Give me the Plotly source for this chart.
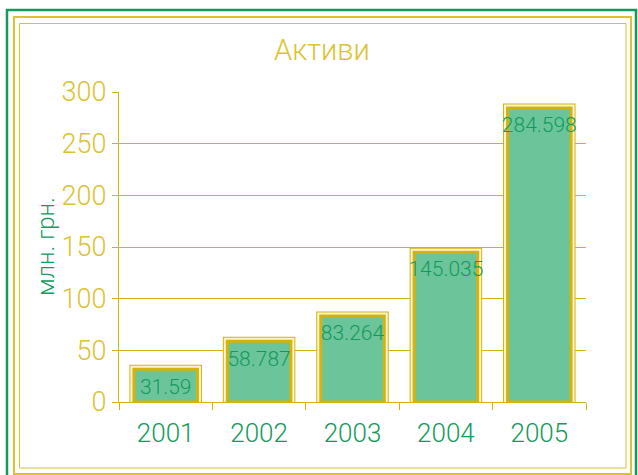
import plotly.graph_objects as go

# ----------------------
#  Дані
# ----------------------

roky = ["2001", "2002", "2003", "2004", "2005"]
aktyvy = [31.59, 58.787, 83.264, 145.035, 284.598]
pidpysy = ["31.59", "58.787", "83.264", "145.035", "284.598"]

ZOVT = "#d4b40c"
ZOVT_SV = "#dcc232"
ZELEN = "#129a5c"
ZELEN_BAR = "#6cc59a"
BLIDYI = "#fbf4d4"
SHRYFT = "Roboto"

# plot area in pixels (used for the frames around the chart)
L, R, T, B = 119, 586, 92, 402


def px(x, y):
    return (x - L) / (R - L), (B - y) / (B - T)


def ramka(x0, y0, x1, y1, color, width):
    a = px(x0, y1)
    b = px(x1, y0)
    return dict(
        type = "rect", xref = "paper", yref = "paper",
        x0 = a[0], y0 = a[1], x1 = b[0], y1 = b[1],
        line = dict(color = color, width = width),
        fillcolor = "rgba(0,0,0,0)", layer = "below"
    )


fig = go.Figure()

# outer thin outline + pale gap + bar with thick border
for line_w, line_c, fill in [(9, ZOVT, ZOVT), (7, BLIDYI, BLIDYI), (3, ZOVT, ZELEN_BAR)]:
    fig.add_trace(
        go.Bar(
            x = roky,
            y = aktyvy,
            width = 0.68,
            marker = dict(color = fill, line = dict(color = line_c, width = line_w)),
            hoverinfo = "skip",
            showlegend = False
        )
    )

fig.add_trace(
    go.Scatter(
        x = roky,
        y = aktyvy,
        mode = "markers+text",
        marker = dict(size = 12, color = "rgba(0,0,0,0)"),
        text = pidpysy,
        textposition = "bottom center",
        textfont = dict(family = SHRYFT, size = 21, color = ZELEN, weight = 300),
        hoverinfo = "skip",
        showlegend = False
    )
)

fig.update_layout(
    width = 638,
    height = 475,
    barmode = "overlay",
    paper_bgcolor = "white",
    plot_bgcolor = "white",
    margin = dict(l = L, r = 638 - R, t = T, b = 475 - B),
    font = dict(family = SHRYFT, weight = 300),
    title = dict(
        text = "Активи",
        x = px(322, 0)[0], xref = "paper", xanchor = "center",
        y = 1 - 50 / 475, yref = "container", yanchor = "middle",
        font = dict(family = SHRYFT, size = 29, color = ZOVT_SV, weight = 300)
    ),
    shapes = [
        ramka(7, 10, 636, 482, ZELEN, 2.5),
        ramka(14, 17, 631, 474, ZOVT_SV, 2),
        ramka(19.5, 23.5, 626, 468, ZOVT_SV, 1),
    ],
    annotations = [
        dict(
            text = "млн. грн.",
            xref = "paper", yref = "paper",
            x = px(46, 0)[0], y = px(0, 247)[1],
            textangle = -90, showarrow = False,
            xanchor = "center", yanchor = "middle",
            font = dict(family = SHRYFT, size = 24, color = ZELEN, weight = 300)
        )
    ]
)

fig.update_xaxes(
    type = "category",
    showline = True, linecolor = ZOVT, linewidth = 1.2,
    ticks = "outside", tickson = "boundaries", ticklen = 7,
    tickcolor = ZOVT, tickwidth = 1.2,
    ticklabelstandoff = 8,
    tickfont = dict(family = SHRYFT, size = 26, color = ZELEN, weight = 300),
    showgrid = False
)

fig.update_yaxes(
    range = [0, 300], dtick = 50,
    showline = True, linecolor = ZOVT, linewidth = 1.2,
    ticks = "outside", ticklen = 6, tickcolor = ZOVT, tickwidth = 1.2,
    tickfont = dict(family = SHRYFT, size = 27, color = ZOVT_SV, weight = 300),
    showgrid = True, gridcolor = ZOVT, gridwidth = 1,
    zeroline = False
)

# the page body has an 8px margin by default
fig.write_html(
    "out.html",
    config = {"displayModeBar": False},
    post_script = "document.body.style.margin = '0px';"
)
